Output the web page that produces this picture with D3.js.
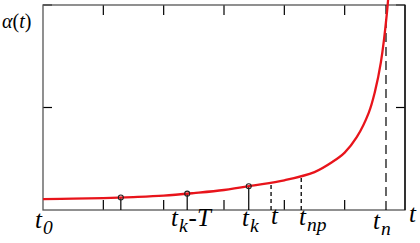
<!DOCTYPE html>
<html><head><meta charset="utf-8">
<script src="https://cdn.jsdelivr.net/npm/d3@7"></script>
<style>body{margin:0;background:#fff;}svg{display:block;}</style>
</head><body>
<svg id="c" width="420" height="243"></svg>
<script>
// data (x in plot units 0..6, y in 0..2)
const curveX = [0, 0.5, 1, 1.5, 2, 2.5, 3, 3.5, 4, 4.5, 4.8, 5, 5.2, 5.4, 5.5, 5.6, 5.7, 5.75];
const curveY = [0.107, 0.11, 0.116, 0.126, 0.14, 0.165, 0.195, 0.24, 0.29, 0.37, 0.47, 0.56, 0.71, 0.95, 1.15, 1.44, 1.92, 2.3];
const markerX = [1.29, 2.39, 3.41];
const dashedX = [3.78, 4.28];
const tnX = 5.685;
const xTicks = [1, 2, 3, 4, 5];
const yTicks = [1, 2];

const svg = d3.select("#c");
const x = d3.scaleLinear().domain([0, 6]).range([43, 405]);
const y = d3.scaleLinear().domain([0, 2]).range([210, 5]);
const interp = d3.scaleLinear().domain(curveX).range(curveY);

// ticks
const tk = svg.append("g").attr("stroke", "#000").attr("stroke-width", 1.2);
xTicks.forEach(v => {
  tk.append("line").attr("x1", x(v)).attr("x2", x(v)).attr("y1", y(0)).attr("y2", y(0) - 10);
  tk.append("line").attr("x1", x(v)).attr("x2", x(v)).attr("y1", y(2)).attr("y2", y(2) + 10);
});
yTicks.forEach(v => {
  tk.append("line").attr("x1", x(0)).attr("x2", x(0) + 9).attr("y1", y(v)).attr("y2", y(v));
  tk.append("line").attr("x1", x(6)).attr("x2", x(6) - 9).attr("y1", y(v)).attr("y2", y(v));
});

// frame
svg.append("rect").attr("x", x(0)).attr("y", y(2)).attr("width", x(6) - x(0)).attr("height", y(0) - y(2))
  .attr("fill", "none").attr("stroke", "#555").attr("stroke-width", 1.3);
svg.append("line").attr("x1", x(6)).attr("x2", x(6)).attr("y1", y(2)).attr("y2", y(0)).attr("stroke", "#000").attr("stroke-width", 1.3);

// verticals
markerX.forEach(v => {
  svg.append("line").attr("x1", x(v)).attr("x2", x(v)).attr("y1", y(0)).attr("y2", y(interp(v)))
    .attr("stroke", "#000").attr("stroke-width", 1.2);
});
dashedX.forEach(v => {
  svg.append("line").attr("x1", x(v)).attr("x2", x(v)).attr("y1", y(0)).attr("y2", y(interp(v)))
    .attr("stroke", "#000").attr("stroke-width", 1.3).attr("stroke-dasharray", "4,3");
});
svg.append("line").attr("x1", x(tnX)).attr("x2", x(tnX)).attr("y1", y(0)).attr("y2", y(2))
  .attr("stroke", "#000").attr("stroke-width", 1.2).attr("stroke-dasharray", "9,5");

// curve
svg.append("defs").append("clipPath").attr("id", "clip").append("rect")
  .attr("x", x(0)).attr("y", 0).attr("width", x(6) - x(0)).attr("height", y(0));
svg.append("path").datum(curveX.map((v, i) => [v, curveY[i]]))
  .attr("clip-path", "url(#clip)")
  .attr("d", d3.line().x(d => x(d[0])).y(d => y(d[1])).curve(d3.curveCatmullRom))
  .attr("fill", "none").attr("stroke", "#e8141b").attr("stroke-width", 2.3);

// markers
markerX.forEach(v => {
  svg.append("circle").attr("cx", x(v)).attr("cy", y(interp(v))).attr("r", 2.5)
    .attr("fill", "none").attr("stroke", "#222").attr("stroke-width", 1.1);
});

// labels
const font = "'Liberation Serif', 'DejaVu Serif', serif";
function lab(px, py, main, sub, rest, size) {
  const s = size || 25;
  const t = svg.append("text").attr("x", px).attr("y", py)
    .attr("font-family", font).attr("font-style", "italic").attr("font-size", s).attr("fill", "#000");
  t.append("tspan").text(main);
  if (sub) t.append("tspan").attr("dy", 6).attr("dx", 1).attr("font-size", s * 0.78).text(sub);
  if (rest) t.append("tspan").attr("dy", -6).attr("dx", 1).text(rest);
  return t;
}
lab(35, 228, "t", "0");
lab(171, 226, "t", "k", "-T");
lab(242, 226, "t", "k");
lab(271, 224, "t");
lab(299, 225, "t", "np");
lab(373, 229, "t", "n");
lab(409, 222, "t");

const al = svg.append("text").attr("x", 2).attr("y", 28).attr("font-family", font).attr("font-size", 20).attr("fill", "#000");
al.append("tspan").attr("font-style", "italic").text("α");
al.append("tspan").text("(");
al.append("tspan").attr("font-style", "italic").text("t");
al.append("tspan").text(")");
</script>
</body></html>
